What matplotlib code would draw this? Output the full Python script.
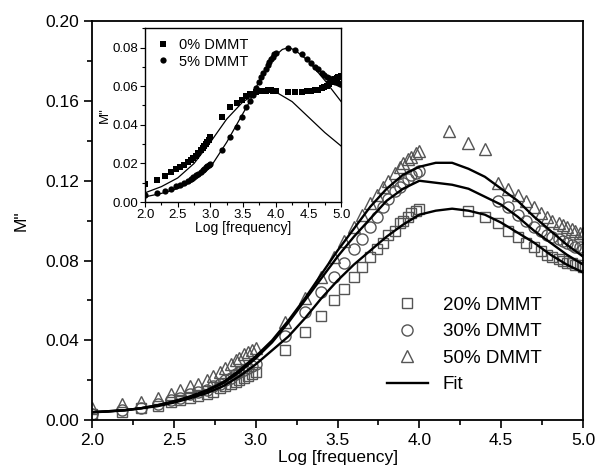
import numpy as np
import matplotlib
matplotlib.use('Agg')
import matplotlib.pyplot as plt
from matplotlib.ticker import MultipleLocator

plt.rcParams['font.family'] = ['Liberation Sans', 'DejaVu Sans']

# measurement points, log10 of frequency
x_lo = [2.0, 2.18, 2.3, 2.4, 2.48, 2.54, 2.6, 2.65, 2.7, 2.74, 2.78, 2.81, 2.85,
        2.88, 2.9, 2.93, 2.95, 2.98, 3.0]
x_mid = [3.18, 3.3, 3.4, 3.48, 3.54, 3.6, 3.65, 3.7, 3.74, 3.78, 3.81, 3.85,
         3.88, 3.9, 3.93, 3.95, 3.98, 4.0]
x_hi = [4.48, 4.54, 4.6, 4.65, 4.7, 4.74, 4.78, 4.81, 4.85, 4.88, 4.9, 4.93,
        4.95, 4.98, 5.0]

# main plot: 20 %, 30 %, 50 % DMMT
x_20 = x_lo + x_mid + [4.3, 4.4] + x_hi
m_20 = [0.003, 0.004, 0.006, 0.007, 0.009, 0.010, 0.011, 0.012, 0.013, 0.014,
        0.016, 0.017, 0.018, 0.019, 0.020, 0.021, 0.022, 0.023, 0.024,
        0.035, 0.044, 0.052, 0.060, 0.066, 0.072, 0.077, 0.082, 0.086, 0.089,
        0.093, 0.095, 0.099, 0.100, 0.102, 0.104, 0.105, 0.106,
        0.105, 0.102,
        0.099, 0.095, 0.092, 0.089, 0.087, 0.085, 0.083, 0.082, 0.081, 0.080,
        0.079, 0.079, 0.078, 0.078, 0.077]

x_30 = x_lo + x_mid + x_hi
m_30 = [0.003, 0.005, 0.006, 0.008, 0.010, 0.011, 0.013, 0.014, 0.015, 0.017,
        0.018, 0.020, 0.021, 0.023, 0.024, 0.025, 0.026, 0.027, 0.028,
        0.042, 0.054, 0.064, 0.072, 0.079, 0.086, 0.091, 0.097, 0.102, 0.107,
        0.111, 0.115, 0.117, 0.119, 0.121, 0.123, 0.124, 0.125,
        0.110, 0.107, 0.103, 0.100, 0.097, 0.095, 0.093, 0.092, 0.091, 0.090,
        0.089, 0.088, 0.087, 0.087, 0.086]

x_50 = x_lo + x_mid + [4.18, 4.3, 4.4] + x_hi
m_50 = [0.006, 0.008, 0.009, 0.011, 0.013, 0.015, 0.017, 0.018, 0.020, 0.022,
        0.024, 0.026, 0.028, 0.030, 0.031, 0.033, 0.034, 0.035, 0.036,
        0.049, 0.061, 0.072, 0.082, 0.090, 0.097, 0.103, 0.109, 0.113, 0.117,
        0.120, 0.124, 0.127, 0.129, 0.131, 0.132, 0.134, 0.135,
        0.145, 0.139, 0.136,
        0.119, 0.116, 0.113, 0.110, 0.107, 0.104, 0.102, 0.100, 0.099, 0.098,
        0.097, 0.096, 0.095, 0.094, 0.094]

# fit curves
x_fit = [2.0, 2.1, 2.2, 2.3, 2.4, 2.5, 2.6, 2.7, 2.8, 2.9, 3.0, 3.1, 3.2, 3.3,
         3.4, 3.5, 3.6, 3.7, 3.8, 3.9, 4.0, 4.1, 4.2, 4.3, 4.4, 4.5, 4.6, 4.7,
         4.8, 4.9, 5.0]
fit_50 = [0.004, 0.0045, 0.005, 0.006, 0.0075, 0.0095, 0.012, 0.015, 0.019,
          0.025, 0.032, 0.040, 0.050, 0.061, 0.073, 0.085, 0.096, 0.107, 0.116,
          0.123, 0.127, 0.129, 0.129, 0.126, 0.122, 0.116, 0.110, 0.102, 0.095,
          0.088, 0.082]
fit_30 = [0.004, 0.0045, 0.005, 0.006, 0.0075, 0.0093, 0.0115, 0.0145, 0.0185,
          0.024, 0.031, 0.039, 0.049, 0.060, 0.071, 0.082, 0.092, 0.101, 0.110,
          0.116, 0.120, 0.119, 0.118, 0.116, 0.112, 0.108, 0.102, 0.095, 0.089,
          0.083, 0.078]
fit_20 = [0.004, 0.0043, 0.005, 0.006, 0.007, 0.0088, 0.011, 0.0135, 0.017,
          0.022, 0.028, 0.035, 0.042, 0.051, 0.061, 0.070, 0.078, 0.085, 0.092,
          0.098, 0.103, 0.105, 0.106, 0.105, 0.103, 0.099, 0.094, 0.089, 0.083,
          0.078, 0.074]

# inset: 0 % and 5 % DMMT
xi_0 = x_lo + x_mid + [4.18, 4.3, 4.4] + x_hi
mi_0 = [0.0093, 0.0113, 0.0134, 0.0155, 0.017, 0.018, 0.019, 0.0205, 0.022,
        0.023, 0.024, 0.0255, 0.027, 0.028, 0.029, 0.030, 0.031, 0.032, 0.0335,
        0.044, 0.049, 0.0515, 0.053, 0.055, 0.0557, 0.056, 0.057, 0.0573,
        0.0575, 0.0577, 0.0577, 0.0578, 0.0578, 0.0578, 0.0577, 0.0575, 0.0575,
        0.057, 0.057, 0.057,
        0.0573, 0.0575, 0.0578, 0.0582, 0.0588, 0.0595, 0.0603, 0.061, 0.062,
        0.0628, 0.0635, 0.064, 0.0645, 0.065, 0.0655]
xi_5 = xi_0
mi_5 = [0.0036, 0.0048, 0.006, 0.007, 0.0082, 0.009, 0.010, 0.011, 0.012,
        0.013, 0.014, 0.0145, 0.0155, 0.0165, 0.017, 0.018, 0.0185, 0.019,
        0.0196,
        0.027, 0.0337, 0.039, 0.044, 0.049, 0.0525, 0.0555, 0.059, 0.062,
        0.065, 0.067, 0.069, 0.071, 0.0725, 0.074, 0.075, 0.0765, 0.077,
        0.080, 0.0788, 0.0768,
        0.074, 0.072, 0.070, 0.069, 0.067, 0.066, 0.065, 0.064, 0.063, 0.0625,
        0.062, 0.062, 0.0615, 0.061, 0.061]

xi_fit0 = [2.0, 2.25, 2.5, 2.75, 3.0, 3.25, 3.5, 3.75, 3.9, 4.0, 4.25, 4.5,
           4.75, 5.0]
fit_0 = [0.0048, 0.008, 0.0125, 0.020, 0.031, 0.043, 0.052, 0.057, 0.058,
         0.057, 0.052, 0.044, 0.036, 0.029]
xi_fit5 = [2.0, 2.25, 2.5, 2.75, 3.0, 3.25, 3.5, 3.6, 3.75, 3.9, 4.0, 4.1,
           4.2, 4.3, 4.5, 4.75, 5.0]
fit_5 = [0.0027, 0.0045, 0.007, 0.011, 0.018, 0.031, 0.046, 0.052, 0.063,
         0.072, 0.076, 0.079, 0.080, 0.0785, 0.073, 0.063, 0.052]

fig = plt.figure(figsize=(5.98, 4.70), dpi=100)
ax = fig.add_axes([0.154, 0.106, 0.821, 0.849])

mk = dict(linestyle='none', markerfacecolor='none', markeredgecolor='#555555',
          markeredgewidth=1.0)
ax.plot(x_20, m_20, marker='s', markersize=7.5, label='20% DMMT', **mk)
ax.plot(x_30, m_30, marker='o', markersize=8, label='30% DMMT', **mk)
ax.plot(x_50, m_50, marker='^', markersize=9, label='50% DMMT', **mk)
ax.plot(x_fit, fit_20, color='black', lw=1.7, label='Fit')
ax.plot(x_fit, fit_30, color='black', lw=1.7)
ax.plot(x_fit, fit_50, color='black', lw=1.7)

ax.set_xlim(2.0, 5.0)
ax.set_ylim(0.0, 0.20)
ax.xaxis.set_major_locator(MultipleLocator(0.5))
ax.xaxis.set_minor_locator(MultipleLocator(0.25))
ax.yaxis.set_major_locator(MultipleLocator(0.04))
ax.yaxis.set_minor_locator(MultipleLocator(0.02))
ax.xaxis.set_major_formatter(matplotlib.ticker.FormatStrFormatter('%.1f'))
ax.yaxis.set_major_formatter(matplotlib.ticker.FormatStrFormatter('%.2f'))
ax.tick_params(which='both', direction='out', top=False, right=False,
               labelsize=12.5, width=1.2)
ax.tick_params(which='major', length=6)
ax.tick_params(which='minor', length=3.5)
for s in ax.spines.values():
    s.set_linewidth(1.3)
ax.set_xlabel('Log [frequency]', fontsize=12.5, labelpad=1)
ax.set_ylabel('M"', fontsize=12.5, labelpad=12)

leg = ax.legend(loc='lower right', bbox_to_anchor=(0.95, 0.025), frameon=False,
                fontsize=13.5, handlelength=2.2, handletextpad=0.8,
                labelspacing=0.5)

# inset
axi = fig.add_axes([0.2425, 0.570, 0.328, 0.370])
mi = dict(linestyle='none', color='black', markeredgewidth=0)
axi.plot(xi_0, mi_0, marker='s', markersize=4, label='0% DMMT', **mi)
axi.plot(xi_5, mi_5, marker='o', markersize=4.5, label='5% DMMT', **mi)
axi.plot(xi_fit0, fit_0, color='black', lw=0.9)
axi.plot(xi_fit5, fit_5, color='black', lw=0.9)
axi.set_xlim(2.0, 5.0)
axi.set_ylim(0.0, 0.09)
axi.xaxis.set_major_locator(MultipleLocator(0.5))
axi.xaxis.set_minor_locator(MultipleLocator(0.25))
axi.yaxis.set_major_locator(MultipleLocator(0.02))
axi.yaxis.set_minor_locator(MultipleLocator(0.01))
axi.xaxis.set_major_formatter(matplotlib.ticker.FormatStrFormatter('%.1f'))
axi.yaxis.set_major_formatter(matplotlib.ticker.FormatStrFormatter('%.2f'))
axi.tick_params(which='both', direction='out', top=False, right=False,
                labelsize=9.5, width=0.8, pad=1.5)
axi.tick_params(which='major', length=3.5)
axi.tick_params(which='minor', length=2)
for s in axi.spines.values():
    s.set_linewidth(1.0)
axi.set_xlabel('Log [frequency]', fontsize=10, labelpad=0)
axi.set_ylabel('M"', fontsize=9.5, labelpad=1)
axi.legend(loc='upper left', frameon=False, fontsize=10.5, handlelength=1.0,
           handletextpad=0.6, labelspacing=0.15, borderaxespad=0.3)

fig.savefig('out.png', dpi=100)
